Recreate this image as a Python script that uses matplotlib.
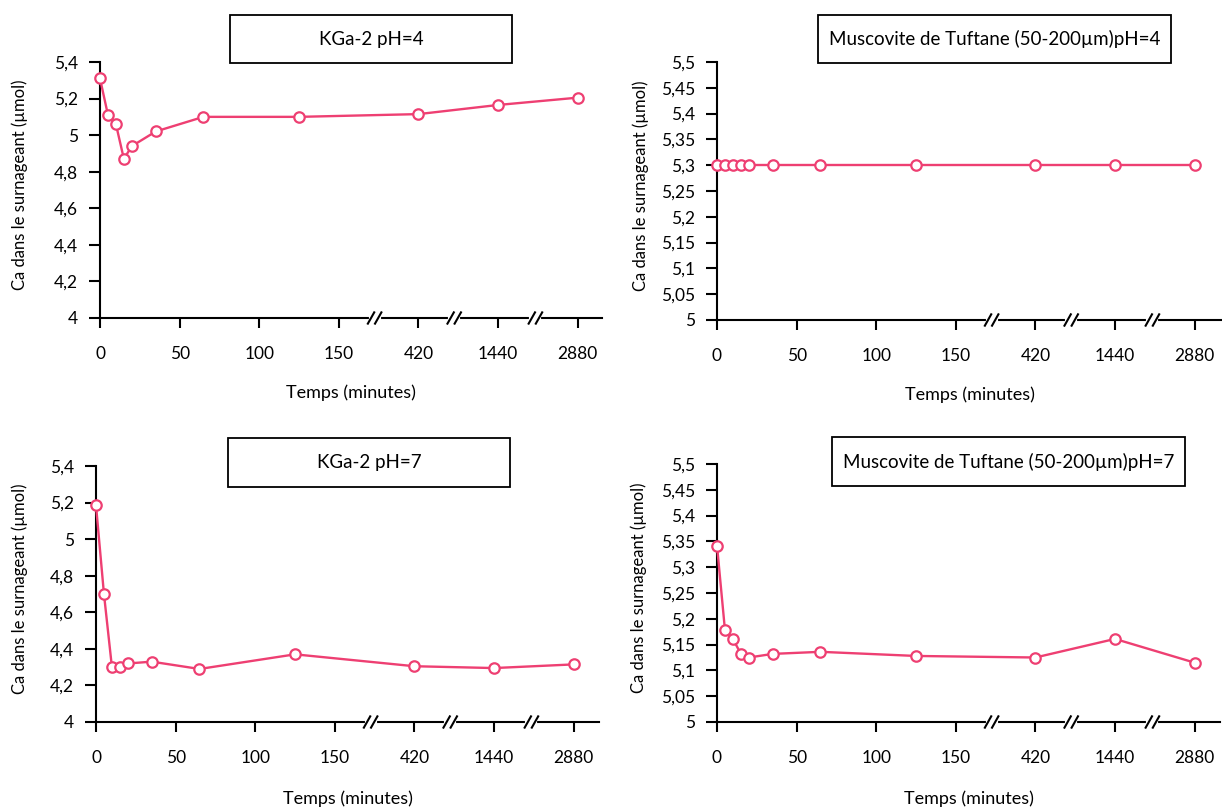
import matplotlib
matplotlib.use('Agg')
import matplotlib.pyplot as plt
from matplotlib.patches import Rectangle
from matplotlib.lines import Line2D

plt.rcParams['font.family'] = ['Lato', 'DejaVu Sans']

# --- data ---
temps = [0, 5, 10, 15, 20, 35, 65, 125, 420, 1440, 2880]
xtick_vals = [0, 50, 100, 150, 420, 1440, 2880]

kga_ph4 = [5.31, 5.11, 5.06, 4.87, 4.94, 5.02, 5.10, 5.10, 5.115, 5.165, 5.205]
musc_ph4 = [5.30, 5.30, 5.30, 5.30, 5.30, 5.30, 5.30, 5.30, 5.30, 5.30, 5.30]
kga_ph7 = [5.185, 4.70, 4.30, 4.30, 4.32, 4.33, 4.29, 4.37, 4.305, 4.295, 4.315]
musc_ph7 = [5.342, 5.178, 5.161, 5.132, 5.125, 5.132, 5.136, 5.128, 5.125, 5.161, 5.115]

titles = ['KGa-2 pH=4', 'Muscovite de Tuftane (50-200\u00b5m)pH=4',
          'KGa-2 pH=7', 'Muscovite de Tuftane (50-200\u00b5m)pH=7']

W, H = 1222, 810
pink = '#EE3F72'


def pos(t):
    # broken axis: linear up to 150, then one slot per value
    if t <= 150:
        return t / 50.0
    return {420: 4, 1440: 5, 2880: 6}[t]


def fmt(v):
    return ('%g' % round(v, 2)).replace('.', ',')


def px_axes(left, top, right, bottom):
    return [left / W, 1 - bottom / H, (right - left) / W, (bottom - top) / H]


fig = plt.figure(figsize=(W / 100, H / 100), dpi=100)

panels = [
    # axes box, ylim, ytick step, title box (l, t, r, b), ylabel x px, xlabel pad, values
    ((100, 62, 602, 318), (4, 5.4), 0.2, (230, 15, 512, 63), 28, 16.5, kga_ph4),
    ((717, 62, 1222, 320), (5, 5.5), 0.05, (818, 15, 1171, 63), 649, 16.5, musc_ph4),
    ((96, 466, 599, 722), (4, 5.4), 0.2, (228, 438, 510, 487), 28, 17.5, kga_ph7),
    ((717, 464, 1220, 722), (5, 5.5), 0.05, (832, 437, 1185, 486), 647, 17.5, musc_ph7),
]

for k, (box, ylim, step, tbox, ylx, xpad, vals) in enumerate(panels):
    ax = fig.add_axes(px_axes(*box))
    spacing = 79.6
    ax.set_xlim(0, (box[2] - box[0]) / spacing)
    ax.set_ylim(*ylim)

    xs = [pos(t) for t in temps]
    ax.plot(xs, vals, '-', color=pink, lw=1.7, zorder=3, clip_on=False)
    ax.plot(xs, vals, 'o', ms=7.5, mfc='white', mec=pink, mew=1.6,
            zorder=4, clip_on=False)

    n = int(round((ylim[1] - ylim[0]) / step))
    yt = [ylim[0] + i * step for i in range(n + 1)]
    ax.set_yticks(yt)
    ax.set_yticklabels([fmt(v) for v in yt])
    ax.set_xticks([pos(t) for t in xtick_vals])
    ax.set_xticklabels([str(t) for t in xtick_vals])

    for s in ['top', 'right']:
        ax.spines[s].set_visible(False)
    for s in ['left', 'bottom']:
        ax.spines[s].set_linewidth(1.5)
    ax.tick_params(axis='y', direction='out', length=8, width=1.5,
                   pad=8, labelsize=12.5)
    ax.tick_params(axis='x', direction='out', length=7, width=1.5,
                   pad=13, labelsize=12.5)

    ax.set_xlabel('Temps (minutes)', fontsize=13, labelpad=xpad)
    ax.set_ylabel('Ca dans le surnageant (\u00b5mol)', fontsize=12)
    ax.yaxis.set_label_coords((ylx - box[0]) / (box[2] - box[0]), 0.52)

    # break marks on the x axis
    yr = ylim[1] - ylim[0]
    for b in [3.45, 4.45, 5.47]:
        ax.plot([b - 0.05, b + 0.05], [ylim[0], ylim[0]], color='white',
                lw=3, zorder=5, clip_on=False)
        for d in [-0.045, 0.045]:
            ax.add_line(Line2D([b + d - 0.04, b + d + 0.04],
                               [ylim[0] - yr * 0.022, ylim[0] + yr * 0.022],
                               color='black', lw=1.5, zorder=6, clip_on=False))

    # title box
    l, t, r, b = tbox
    fig.patches.append(Rectangle((l / W, 1 - b / H), (r - l) / W, (b - t) / H,
                                 transform=fig.transFigure, fill=True,
                                 facecolor='white', edgecolor='black',
                                 lw=1.3, zorder=10))
    fig.text((l + r) / 2 / W, 1 - (t + b) / 2 / H, titles[k], ha='center',
             va='center', fontsize=13.5, zorder=11)

fig.savefig('out.png', dpi=100)
